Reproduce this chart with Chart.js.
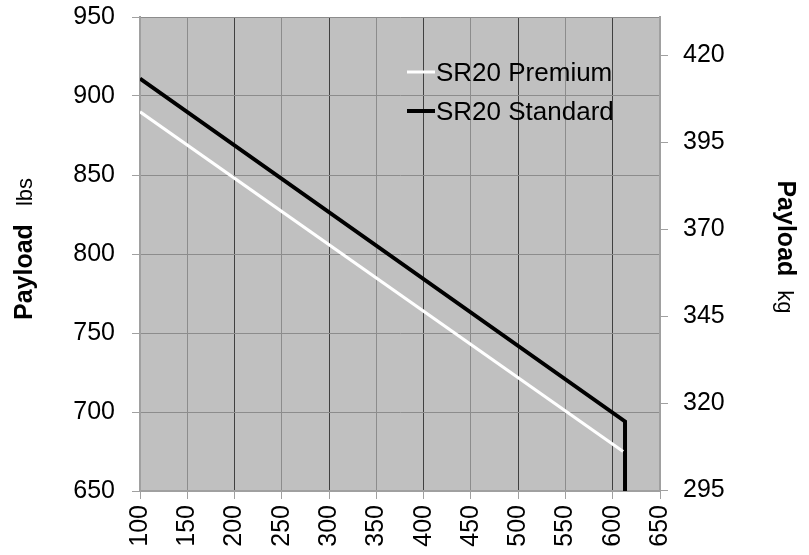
<!DOCTYPE html>
<html>
<head>
<meta charset="utf-8">
<script src="https://cdn.jsdelivr.net/npm/chart.js@4.4.1/dist/chart.umd.min.js"></script>
<style>
    body { margin: 0; background: #fff; }
    #wrap { width: 809px; height: 555px; }
</style>
</head>
<body>
<div id="wrap"><canvas id="chartPayload" width="809" height="555"></canvas></div>
<script>
// datos
const premiumX = [100, 611];
const premiumY = [890, 675];
const standardX = [100, 613, 613];
const standardY = [911, 694, 650];
const xTicks = [100, 150, 200, 250, 300, 350, 400, 450, 500, 550, 600, 650];
const lbsTicks = [650, 700, 750, 800, 850, 900, 950];
const kgTicks = [295, 320, 345, 370, 395, 420];
const LBS_KG = 2.20462;

const fuente = '"Liberation Sans", Arial, sans-serif';

// titulo de eje: "Payload" en negrita + unidad normal
function tituloEje(ctx, x, y, angulo, unidad, hueco) {
    ctx.save();
    ctx.translate(x, y);
    ctx.rotate(angulo);
    ctx.font = 'bold 25px ' + fuente;
    let w1 = ctx.measureText('Payload').width;
    ctx.font = '22px ' + fuente;
    let w2 = ctx.measureText(unidad).width;
    let total = w1 + hueco + w2;
    ctx.textAlign = 'left';
    ctx.textBaseline = 'alphabetic';
    ctx.fillStyle = '#000';
    ctx.font = 'bold 25px ' + fuente;
    ctx.fillText('Payload', -total / 2, 0);
    ctx.font = '22px ' + fuente;
    ctx.fillText(unidad, -total / 2 + w1 + hueco, 0);
    ctx.restore();
}

// fondo gris del area, titulos de ejes y leyenda
const extras = {
    id: 'extras',
    beforeDraw(chart) {
        let { ctx, chartArea: a } = chart;
        ctx.save();
        ctx.fillStyle = '#c0c0c0';
        ctx.fillRect(a.left, a.top, a.right - a.left, a.bottom - a.top);
        ctx.restore();
    },
    afterDraw(chart) {
        let ctx = chart.ctx;
        tituloEje(ctx, 32, 249, -Math.PI / 2, 'lbs', 18);
        tituloEje(ctx, 778, 247, Math.PI / 2, 'kg', 14);

        // leyenda
        let items = [
            { texto: 'SR20 Premium', color: '#ffffff', ancho: 3, y: 72 },
            { texto: 'SR20 Standard', color: '#000000', ancho: 4, y: 111 }
        ];
        ctx.save();
        ctx.font = '26px ' + fuente;
        ctx.textBaseline = 'middle';
        ctx.textAlign = 'left';
        items.forEach(item => {
            ctx.strokeStyle = item.color;
            ctx.lineWidth = item.ancho;
            ctx.beginPath();
            ctx.moveTo(407, item.y);
            ctx.lineTo(435, item.y);
            ctx.stroke();
            ctx.fillStyle = '#000';
            ctx.fillText(item.texto, 436, item.y + 2);
        });
        ctx.restore();
    }
};

// quitar el relleno automatico de los ejes verticales
function sinRelleno(scale, ancho) {
    scale.width = ancho;
    scale.paddingTop = 0;
    scale.paddingBottom = 0;
}

let ctx = document.getElementById('chartPayload').getContext('2d');
let chartPayload = new Chart(ctx, {
    type: 'line',
    data: {
        datasets: [{
            label: 'SR20 Premium',
            data: premiumX.map((x, i) => ({ x: x, y: premiumY[i] })),
            borderColor: '#ffffff',
            borderWidth: 3,
            pointRadius: 0,
            tension: 0
        }, {
            label: 'SR20 Standard',
            data: standardX.map((x, i) => ({ x: x, y: standardY[i] })),
            borderColor: '#000000',
            borderWidth: 4,
            pointRadius: 0,
            tension: 0
        }]
    },
    options: {
        responsive: false,
        animation: false,
        layout: { padding: { top: 17, left: 0, right: 0, bottom: 0 } },
        plugins: {
            legend: { display: false },
            tooltip: { enabled: false }
        },
        scales: {
            x: {
                type: 'linear',
                min: 100,
                max: 650,
                afterBuildTicks: scale => { scale.ticks = xTicks.map(v => ({ value: v })); },
                afterFit: scale => { scale.height = 64; scale.paddingLeft = 0; scale.paddingRight = 0; },
                ticks: {
                    color: '#000',
                    font: { family: fuente, size: 25 },
                    minRotation: 90,
                    maxRotation: 90,
                    padding: 6,
                    autoSkip: false
                },
                grid: {
                    color: c => (c.tick && c.tick.value % 100 === 0) ? '#404040' : '#8c8c8c',
                    tickColor: '#a0a0a0',
                    tickLength: 8
                },
                border: { color: '#a0a0a0', width: 2 }
            },
            y: {
                position: 'left',
                min: 650,
                max: 950,
                afterBuildTicks: scale => { scale.ticks = lbsTicks.map(v => ({ value: v })); },
                afterFit: scale => sinRelleno(scale, 140),
                ticks: {
                    color: '#000',
                    font: { family: fuente, size: 25 },
                    padding: 17
                },
                grid: {
                    color: '#8c8c8c',
                    tickColor: '#a0a0a0',
                    tickLength: 8
                },
                border: { color: '#a0a0a0', width: 2 }
            },
            y1: {
                position: 'right',
                min: 650 / LBS_KG,
                max: 950 / LBS_KG,
                afterBuildTicks: scale => { scale.ticks = kgTicks.map(v => ({ value: v })); },
                afterFit: scale => sinRelleno(scale, 149),
                ticks: {
                    color: '#000',
                    font: { family: fuente, size: 25 },
                    padding: 15,
                    callback: v => v
                },
                grid: {
                    drawOnChartArea: false,
                    color: '#a0a0a0',
                    tickColor: '#a0a0a0',
                    tickLength: 8
                },
                border: { color: '#a0a0a0', width: 2 }
            }
        }
    },
    plugins: [extras]
});
</script>
</body>
</html>
